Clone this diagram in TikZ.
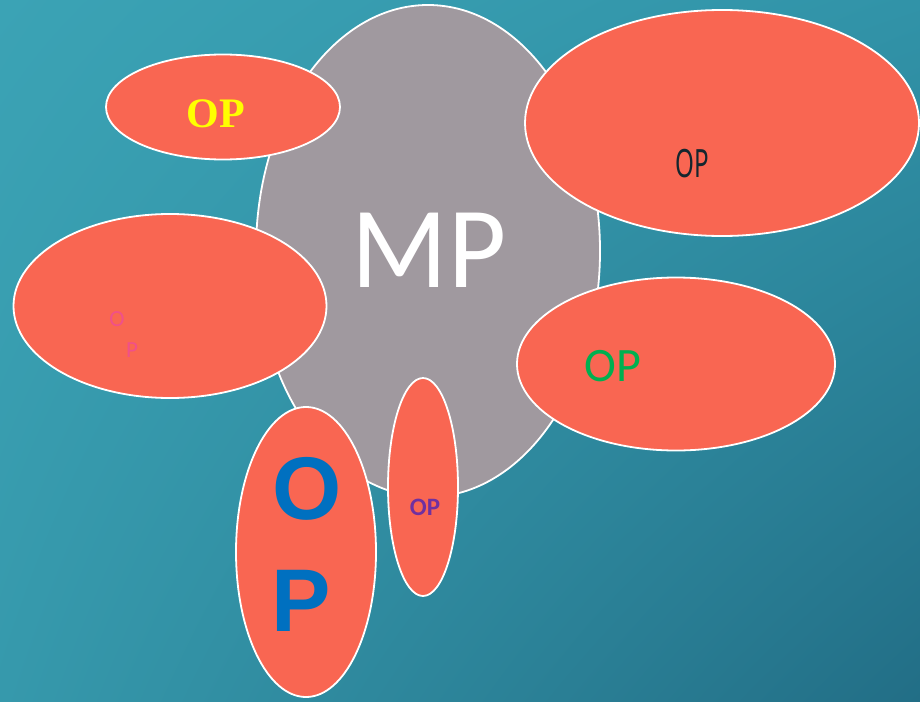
\documentclass[tikz,border=0pt]{standalone}
\usepackage{fontspec}
\usetikzlibrary{shapes.geometric,shadings}
\setmainfont{Carlito}
\newfontfamily\serifbold{Liberation Serif}
\newfontfamily\arialf{Liberation Sans}
\newfontfamily\notof{Noto Sans}
\definecolor{bgTL}{HTML}{3BA3B5}
\definecolor{bgTR}{HTML}{3193A8}
\definecolor{bgBL}{HTML}{3699AC}
\definecolor{bgBR}{HTML}{226E86}
\definecolor{mpgray}{HTML}{A0999F}
\definecolor{opfill}{HTML}{F96652}
\definecolor{opyellow}{HTML}{FFFF00}
\definecolor{opdark}{HTML}{14262E}
\definecolor{oppink}{HTML}{F0508A}
\definecolor{opgreen}{HTML}{00B050}
\definecolor{opblue}{HTML}{0070C0}
\definecolor{oppurple}{HTML}{7030A0}
\tikzset{
  blob/.style={ellipse, draw=white, line width=1.8pt, fill=opfill, inner sep=0pt},
  txt/.style={inner sep=0pt, anchor=center},
}
\begin{document}
\begin{tikzpicture}[x=1pt, y=-1pt]
\useasboundingbox (0,0) rectangle (920,701);
\shade[upper left=bgTL, upper right=bgTR, lower left=bgBL, lower right=bgBR] (0,0) rectangle (920,701);
% main
\node[ellipse, draw=white, line width=1.8pt, fill=mpgray, inner sep=0pt, minimum width=344pt, minimum height=492pt] (mp) at (428,251) {};
\node[txt, text=white, font=\fontsize{116}{116}\selectfont, xscale=0.97] (mptext) at (429,250) {MP};
% satellites
\node[blob, minimum width=234pt, minimum height=105pt] (e1) at (223,107) {};
\node[txt, text=opyellow, font=\serifbold\bfseries\fontsize{42}{42}\selectfont] (t1) at (216,114) {OP};
\node[blob, minimum width=394pt, minimum height=226pt] (e2) at (722,123) {};
\node[txt, text=opdark, font=\notof\fontsize{39}{39}\selectfont, xscale=0.62] (t2) at (692,164) {OP};
\node[blob, minimum width=313pt, minimum height=184pt] (e3) at (170,306) {};
\node[txt, text=oppink, font=\fontsize{23}{23}\selectfont] (t3a) at (117,319) {O};
\node[txt, text=oppink, font=\fontsize{23}{23}\selectfont] (t3b) at (132,350) {P};
\node[blob, minimum width=318pt, minimum height=173pt] (e4) at (676,364) {};
\node[txt, text=opgreen, font=\fontsize{48}{48}\selectfont] (t4) at (613,366) {OP};
\node[blob, minimum width=140pt, minimum height=290pt] (e5) at (306,552) {};
\node[txt, text=opblue, font=\arialf\bfseries\fontsize{89}{89}\selectfont] (t5a) at (307,489) {O};
\node[txt, text=opblue, font=\arialf\bfseries\fontsize{89}{89}\selectfont] (t5b) at (301,601) {P};
\node[blob, minimum width=70pt, minimum height=218pt] (e6) at (423,487) {};
\node[txt, text=oppurple, font=\bfseries\fontsize{25}{25}\selectfont] (t6) at (425,507) {OP};
\end{tikzpicture}
\end{document}
